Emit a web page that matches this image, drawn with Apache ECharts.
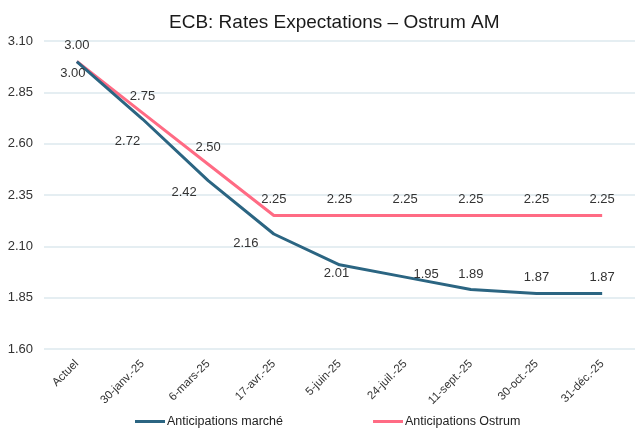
<!DOCTYPE html>
<html>
<head>
<meta charset="utf-8">
<script src="https://cdn.jsdelivr.net/npm/echarts@6/dist/echarts.min.js"></script>
<style>
	html, body { margin: 0; padding: 0; background: #fff; }
	#chart { width: 635px; height: 428px; }
</style>
</head>
<body>
<div id="chart"></div>
<script>
var dates = ['Actuel', '30-janv.-25', '6-mars-25', '17-avr.-25', '5-juin-25', '24-juil.-25', '11-sept.-25', '30-oct.-25', '31-déc.-25'];
var marketRates = [3.00, 2.72, 2.42, 2.16, 2.01, 1.95, 1.89, 1.87, 1.87];
var ostrumRates = [3.00, 2.75, 2.50, 2.25, 2.25, 2.25, 2.25, 2.25, 2.25];
var yTicks = [1.60, 1.85, 2.10, 2.35, 2.60, 2.85, 3.10];

/* décalage des étiquettes de la série marché (comme dans Excel) */
var marketLabelOffset = [[-4, 12], [-15, 22], [-24, 12], [-28, 9], [-3, 9], [21, -3], [0, -15], [0, -16], [0, -16]];

var chart = echarts.init(document.getElementById('chart'));

var marketData = [];
for (var i = 0; i < marketRates.length; i++) {
	marketData.push({
		value: marketRates[i],
		label: { offset: marketLabelOffset[i] }
	});
}

var option = {
	backgroundColor: '#fff',
	animation: false,
	title: {
		text: 'ECB: Rates Expectations – Ostrum AM',
		left: 164,
		top: 8,
		textStyle: {
			fontFamily: 'Liberation Sans',
			fontSize: 19,
			fontWeight: 'normal',
			color: '#1a1a1a'
		}
	},
	legend: {
		top: 410,
		left: 130,
		itemWidth: 30,
		itemHeight: 3,
		itemGap: 90,
		icon: 'rect',
		textStyle: {
			fontFamily: 'Liberation Sans',
			fontSize: 12.5,
			color: '#222',
			padding: [0, 0, 0, -3]
		},
		data: ['Anticipations marché', 'Anticipations Ostrum']
	},
	grid: {
		left: 44,
		top: 41,
		width: 600,
		height: 308
	},
	xAxis: {
		type: 'category',
		data: dates,
		boundaryGap: true,
		axisLine: { show: false },
		axisTick: { show: false },
		axisLabel: {
			rotate: 45,
			interval: 0,
			margin: 13,
			fontFamily: 'Liberation Sans',
			fontSize: 11.5,
			color: '#333'
		}
	},
	yAxis: {
		type: 'value',
		min: yTicks[0],
		max: yTicks[yTicks.length - 1],
		interval: 0.25,
		axisLine: { show: false },
		axisTick: { show: false },
		axisLabel: {
			margin: 11,
			fontFamily: 'Liberation Sans',
			fontSize: 13,
			color: '#333',
			formatter: function (v) { return v.toFixed(2); }
		},
		splitLine: {
			lineStyle: { color: '#dde8ee', width: 1.5 }
		}
	},
	series: [{
		name: 'Anticipations marché',
		type: 'line',
		data: marketData,
		symbol: 'circle',
		symbolSize: 0,
		showSymbol: true,
		lineStyle: { color: '#2b6582', width: 3 },
		itemStyle: { color: '#2b6582' },
		label: {
			show: true,
			position: 'inside',
			fontFamily: 'Liberation Sans',
			fontSize: 13,
			color: '#333',
			formatter: function (p) { return p.value.toFixed(2); }
		},
		z: 3
	}, {
		name: 'Anticipations Ostrum',
		type: 'line',
		data: ostrumRates,
		symbol: 'circle',
		symbolSize: 0,
		showSymbol: true,
		lineStyle: { color: '#ff6b84', width: 3 },
		itemStyle: { color: '#ff6b84' },
		label: {
			show: true,
			position: 'top',
			distance: 10,
			fontFamily: 'Liberation Sans',
			fontSize: 13,
			color: '#333',
			formatter: function (p) { return p.value.toFixed(2); }
		},
		z: 2
	}]
};

chart.setOption(option);
</script>
</body>
</html>
